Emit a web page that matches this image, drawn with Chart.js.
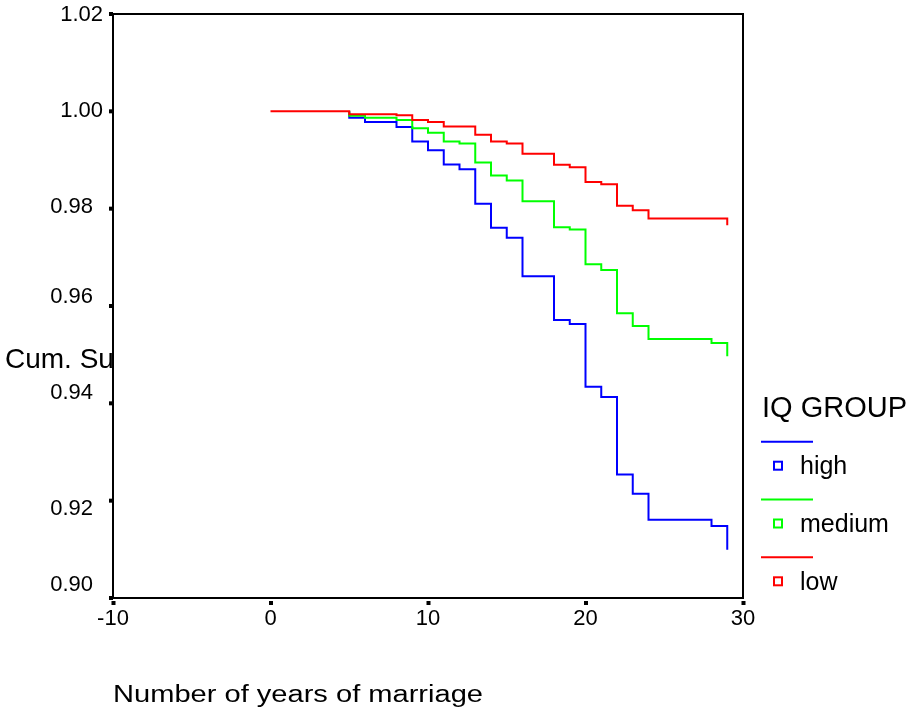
<!DOCTYPE html>
<html>
<head>
<meta charset="utf-8">
<title>Cum. Survival by IQ group</title>
<script src="https://cdn.jsdelivr.net/npm/chart.js@4/dist/chart.umd.min.js"></script>
<style>
  html, body { margin: 0; padding: 0; background: #fff; }
  #wrap { width: 906px; height: 711px; }
</style>
</head>
<body>
<div id="wrap"><canvas id="km" width="906" height="711"></canvas></div>
<script>
// ---------- Kaplan-Meier data ----------
const groups = ['high', 'medium', 'low'];
const colors = ['#0000ff', '#00ff00', '#ff0000'];

// high / medium sit under the red line until the first event at year 5,
// so they start there (at 1.00) and drop straight away
const highYears = [5, 5, 6, 8, 9, 10, 11, 12, 13, 14, 15, 16, 18, 19, 20, 21, 22, 23, 24, 28, 29];
const highSurv  = [1.0, 0.9987, 0.9978, 0.9968, 0.9938, 0.9920, 0.9891, 0.9881, 0.9810, 0.9761, 0.9740,
                   0.9661, 0.9571, 0.9563, 0.9434, 0.9413, 0.9254, 0.9214, 0.9161, 0.9148, 0.9099];

const mediumYears = [5, 5, 6, 8, 9, 10, 11, 12, 13, 14, 15, 16, 18, 19, 20, 21, 22, 23, 24, 28, 29];
const mediumSurv  = [1.0, 0.9991, 0.9987, 0.9982, 0.9965, 0.9956, 0.9938, 0.9934, 0.9895, 0.9868, 0.9858,
                     0.9815, 0.9762, 0.9757, 0.9686, 0.9674, 0.9585, 0.9559, 0.9532, 0.9524, 0.9497];

const lowYears = [0, 5, 8, 9, 10, 11, 13, 14, 15, 16, 18, 19, 20, 21, 22, 23, 24, 29];
const lowSurv  = [1.0, 0.9994, 0.9992, 0.9982, 0.9978, 0.9969, 0.9952, 0.9938, 0.9934, 0.9913,
                  0.9890, 0.9885, 0.9855, 0.9850, 0.9806, 0.9797, 0.9780, 0.9766];

const xTicks = [-10, 0, 10, 20, 30];
const yTicks = [0.90, 0.92, 0.94, 0.96, 0.98, 1.00, 1.02];
const yTickLabels = ['0.90', '0.92', '0.94', '0.96', '0.98', '1.00', '1.02'];

const xTitle = 'Number of years of marriage';
const yTitle = 'Cum. Survival';
const legendTitle = 'IQ GROUP';

// SPSS puts its y labels a bit off the ticks; shift (dy) and right edge per label
const yLabelDy    = [-13, 8, -10, -9, -2, 0, 1];
const yLabelRight = [93, 93, 93, 93, 93, 103, 103];

const FONT = '"Liberation Sans", Arial, Helvetica, sans-serif';

// Axes frame, ticks, titles and legend drawn in SPSS style
const spssFrame = {
  id: 'spssFrame',
  beforeDraw(chart) {
    const { ctx, chartArea: a } = chart;
    ctx.save();
    ctx.fillStyle = '#fff';
    ctx.fillRect(0, 0, chart.width, chart.height);
    // y title is hidden behind the plot area in the original
    ctx.beginPath();
    ctx.rect(0, 0, a.left, chart.height);
    ctx.clip();
    ctx.fillStyle = '#000';
    ctx.font = '28px ' + FONT;
    ctx.textBaseline = 'middle';
    ctx.textAlign = 'left';
    ctx.fillText(yTitle, 5, 360);
    ctx.restore();
  },
  afterDraw(chart) {
    const { ctx, chartArea: a, scales } = chart;
    ctx.save();
    ctx.strokeStyle = '#000';
    ctx.fillStyle = '#000';
    ctx.lineWidth = 2;
    ctx.strokeRect(a.left, a.top, a.right - a.left, a.bottom - a.top);

    // y ticks + labels
    ctx.font = '22px ' + FONT;
    ctx.textAlign = 'right';
    ctx.textBaseline = 'middle';
    yTicks.forEach((v, i) => {
      const py = scales.y.getPixelForValue(v);
      ctx.fillRect(a.left - 4, py - 2, 4, 4);
      ctx.fillText(yTickLabels[i], yLabelRight[i], py + yLabelDy[i]);
    });

    // x ticks + labels
    ctx.textAlign = 'center';
    xTicks.forEach(v => {
      const px = scales.x.getPixelForValue(v);
      ctx.fillRect(px - 1.5, a.bottom + 3, 4, 4);
      ctx.fillText(String(v), px, 619);
    });

    // x title (stretched wide like the source)
    ctx.font = '23px ' + FONT;
    ctx.textAlign = 'left';
    ctx.textBaseline = 'alphabetic';
    const w = ctx.measureText(xTitle).width;
    ctx.save();
    ctx.translate(a.left, 702);
    ctx.scale(370 / w, 1);
    ctx.fillText(xTitle, 0, 0);
    ctx.restore();

    // legend: line on top, hollow square + label below
    ctx.font = '29px ' + FONT;
    ctx.fillText(legendTitle, 762, 417);
    ctx.font = '25px ' + FONT;
    groups.forEach((g, i) => {
      const y0 = 441.7 + i * 57.8;
      ctx.strokeStyle = colors[i];
      ctx.lineWidth = 2;
      ctx.beginPath();
      ctx.moveTo(761, y0);
      ctx.lineTo(813, y0);
      ctx.stroke();
      ctx.strokeRect(774, y0 + 20, 8, 8);
      ctx.fillStyle = '#000';
      ctx.fillText(g, 800, y0 + 32.5);
    });
    ctx.restore();
  }
};

function series(label, years, surv, color, order) {
  return {
    label,
    data: years.map((x, i) => ({ x, y: surv[i] })),
    borderColor: color,
    backgroundColor: color,
    borderWidth: 2,
    borderJoinStyle: 'miter',
    stepped: true,
    pointRadius: 0,
    fill: false,
    order
  };
}

new Chart(document.getElementById('km'), {
  type: 'line',
  data: {
    datasets: [
      series(groups[0], highYears, highSurv, colors[0], 2),
      series(groups[1], mediumYears, mediumSurv, colors[1], 1),
      series(groups[2], lowYears, lowSurv, colors[2], 0)
    ]
  },
  options: {
    responsive: false,
    animation: false,
    devicePixelRatio: 1,
    layout: { padding: { left: 113, top: 14, right: 163, bottom: 113 } },
    plugins: { legend: { display: false }, tooltip: { enabled: false } },
    scales: {
      x: { type: 'linear', min: -10, max: 30, display: false },
      y: { type: 'linear', min: 0.90, max: 1.02, display: false }
    }
  },
  plugins: [spssFrame]
});
</script>
</body>
</html>
